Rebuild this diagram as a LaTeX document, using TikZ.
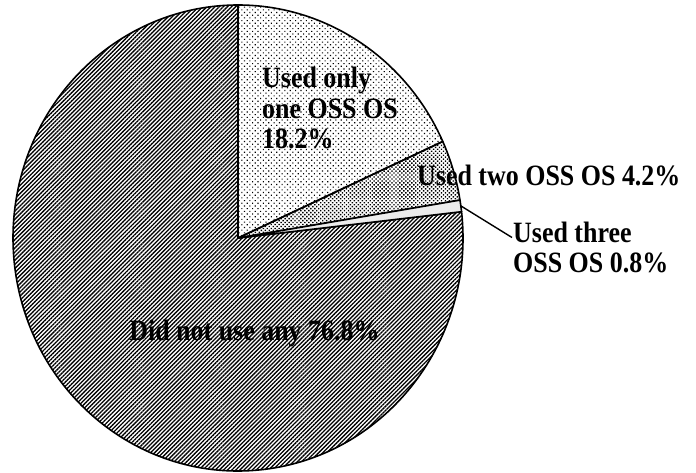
\documentclass[tikz,border=0pt]{standalone}
\usepackage{fontspec}
\setmainfont{Liberation Serif}
\newfontfamily\scanfont[FakeStretch=0.88]{Liberation Serif}
\usetikzlibrary{patterns.meta, positioning, calc}

\begin{document}
\begin{tikzpicture}[
    x=1pt, y=1pt,
    slice/.style={draw=black, line width=1.6pt, line join=round},
    oneos/.style={slice, pattern={Dots[angle=45, distance=3.8pt, radius=0.8pt]}},
    twoos/.style={slice, pattern={Dots[angle=45, distance=2.8pt, radius=1pt]}},
    threeos/.style={slice, fill=gray!15},
    noneos/.style={slice, pattern={Lines[angle=45, distance=2.9pt, line width=1.3pt]}},
    lbl/.style={font=\scanfont\fontsize{29.5}{30.5}\selectfont\bfseries, inner sep=0pt, align=left}
  ]
  \useasboundingbox (0,0) rectangle (696,472);
  \coordinate (c) at (238,234);
  \begin{scope}[shift={(c)}]
    \path[noneos] (0,0) -- (6.48:225 and 233)
      arc[start angle=6.48, end angle=-270, x radius=225, y radius=233] -- cycle;
    \path[oneos] (0,0) -- (90:225 and 233)
      arc[start angle=90, end angle=24.48, x radius=225, y radius=233] -- cycle;
    \path[twoos] (0,0) -- (24.48:225 and 233)
      arc[start angle=24.48, end angle=9.36, x radius=225, y radius=233] -- cycle;
    \path[threeos] (0,0) -- (9.36:225 and 233)
      arc[start angle=9.36, end angle=6.48, x radius=225, y radius=233] -- cycle;
    \coordinate (tip) at (7.92:225 and 233);
  \end{scope}

  \node[lbl, anchor=west] (one) at (262,364) {Used only\\one OSS OS\\18.2\%};
  \node[lbl, anchor=west] (two) at (417,297) {Used two OSS OS 4.2\%};
  \node[lbl, anchor=west] (three) at (513,224.5) {Used three\\OSS OS 0.8\%};
  \node[lbl] (none) at (254.5,139) {Did not use any 76.8\%};

  \draw[line width=1.4pt] (tip) -- ($(three.west)+(-1,10)$);
\end{tikzpicture}
\end{document}
